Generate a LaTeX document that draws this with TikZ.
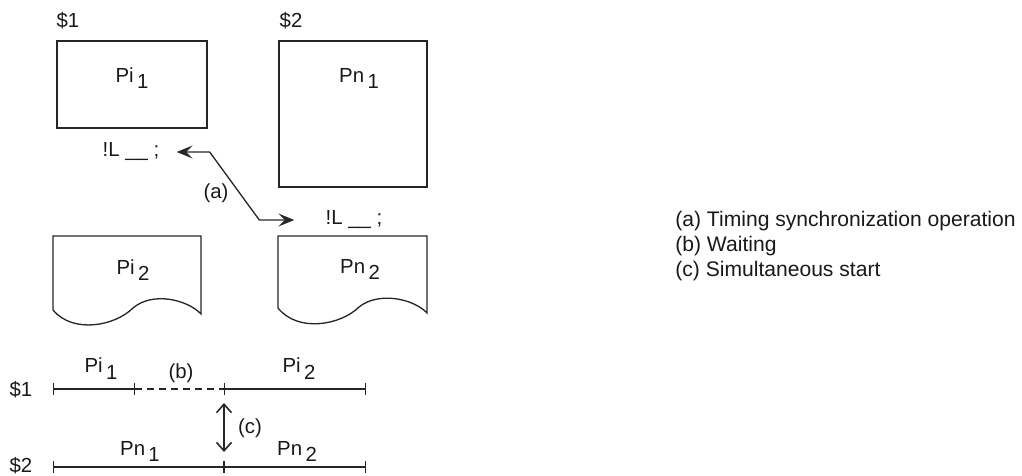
\documentclass[tikz,border=0pt]{standalone}
\usepackage{fontspec}
\setmainfont{Liberation Sans}
\usepackage{tikz}
\usetikzlibrary{arrows.meta,positioning}
\newcommand{\lowsub}[1]{\,\raisebox{-1.2mm}{#1}}
\tikzset{
  prog/.style    = {draw=black!85, line width=0.75pt},
  lbl/.style     = {anchor=base, inner sep=0pt, text=black!90},
  legend/.style  = {anchor=base west, inner sep=0pt, text=black!90,
                    font=\fontsize{12}{14}\selectfont},
  sync/.style    = {draw=black!85, line width=0.75pt,
                    arrows={Stealth[length=3.2mm,width=2.6mm,inset=1.3mm]-Stealth[length=3.2mm,width=2.6mm,inset=1.3mm]}},
  seg/.style     = {draw=black!85, line width=0.75pt,
                    arrows={Bar[width=2.4mm]-Bar[width=2.4mm]}},
  idle/.style    = {draw=black!85, line width=0.75pt, dash pattern=on 1.4mm off 1mm},
  simul/.style   = {draw=black!85, line width=0.9pt,
                    arrows={Straight Barb[length=1.7mm,width=3mm]-Straight Barb[length=1.7mm,width=3mm]}},
}
\begin{document}
\begin{tikzpicture}[x=0.2mm, y=-0.2mm, font=\fontsize{11.6}{13.9}\selectfont]
  \useasboundingbox (0,0) rectangle (1022,476);
  % programs of both systems
  \node[lbl] (lab1) at (68,28)  {\$1};
  \node[lbl] (lab2) at (291,28) {\$2};
  \draw[prog] (57,41) rectangle (207,128);
  \draw[prog] (279,41) rectangle (427,187);
  \node[lbl] (ipi1) at (132,83) {Pi\lowsub{1}};
  \node[lbl] (ipn1) at (359,83) {Pn\lowsub{1}};
  \draw[prog, shift={(53,236)}] (0,0) -- (148,0) -- (148,78)
     .. controls (135,64) and (100,55) .. (80,72)
     .. controls (62,90) and (20,98) .. (0,74) -- cycle;
  \draw[prog, shift={(278,236)}] (0,0) -- (149,0) -- (149,77)
     .. controls (136,63) and (101,55) .. (81,71)
     .. controls (63,89) and (20,97) .. (0,72) -- cycle;
  \node[lbl] (ipi2) at (133,275) {Pi\lowsub{2}};
  \node[lbl] (ipn2) at (360,274) {Pn\lowsub{2}};
  % synchronization
  \node[lbl] (wl1) at (131,157) {!L \_\_ ;};
  \node[lbl] (wl2) at (354,225) {!L \_\_ ;};
  \draw[sync] ([xshift=3.4mm]wl1.east) -- ([xshift=10mm]wl1.east)
              -- ([xshift=-13.2mm]wl2.west) -- ([xshift=-6.2mm]wl2.west);
  \node[lbl] (ta) at (216,199) {(a)};
  % time chart
  \coordinate (s1a) at (53,389);
  \coordinate (s1b) at (135,389);
  \coordinate (s1c) at (224,389);
  \coordinate (s1d) at (366,389);
  \coordinate (s2a) at (53,467);
  \coordinate (s2c) at (224,467);
  \coordinate (s2d) at (366,467);
  \node[lbl] (r1) at (21,397) {\$1};
  \node[lbl] (r2) at (21,472) {\$2};
  \draw[seg] (s1a) -- (s1b);
  \draw[idle] (s1b) -- (s1c);
  \draw[seg] (s1c) -- (s1d);
  \draw[seg] (s2a) -- (s2c);
  \draw[seg] (s2c) -- (s2d);
  \node[lbl] (tpi1) at (101,373) {Pi\lowsub{1}};
  \node[lbl] (tb)   at (181,379) {(b)};
  \node[lbl] (tpi2) at (299,373) {Pi\lowsub{2}};
  \node[lbl] (tpn1) at (140,455) {Pn\lowsub{1}};
  \node[lbl] (tpn2) at (297,455) {Pn\lowsub{2}};
  \draw[simul] ([yshift=-2.8mm]s1c) -- ([yshift=3mm]s2c);
  \node[lbl] (tc) at (250,434) {(c)};
  % legend
  \node[legend] (lga) at (675,227) {(a) Timing synchronization operation};
  \node[legend] (lgb) at (675,252) {(b) Waiting};
  \node[legend] (lgc) at (675,277) {(c) Simultaneous start};
\end{tikzpicture}
\end{document}
